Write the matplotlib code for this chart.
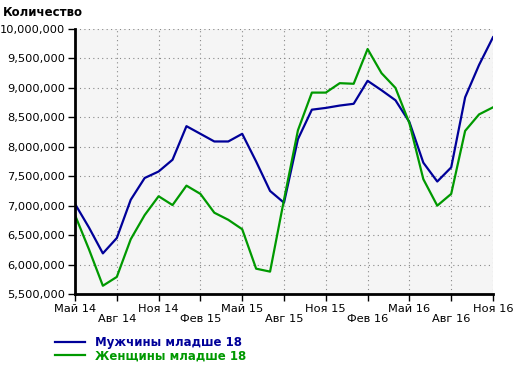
import matplotlib
matplotlib.use("Agg")
import matplotlib.pyplot as plt
from matplotlib.ticker import FuncFormatter

# months May 14 .. Nov 16
months = ["Май 14", "Июн 14", "Июл 14", "Авг 14", "Сен 14", "Окт 14", "Ноя 14", "Дек 14",
          "Янв 15", "Фев 15", "Мар 15", "Апр 15", "Май 15", "Июн 15", "Июл 15", "Авг 15",
          "Сен 15", "Окт 15", "Ноя 15", "Дек 15", "Янв 16", "Фев 16", "Мар 16", "Апр 16",
          "Май 16", "Июн 16", "Июл 16", "Авг 16", "Сен 16", "Окт 16", "Ноя 16"]

men = [7.03, 6.63, 6.19, 6.45, 7.10, 7.47, 7.58, 7.78, 8.35, 8.22, 8.09, 8.09, 8.22,
       7.75, 7.25, 7.05, 8.13, 8.63, 8.66, 8.70, 8.73, 9.12, 8.96, 8.79, 8.42,
       7.73, 7.41, 7.65, 8.84, 9.39, 9.86]
women = [6.84, 6.26, 5.64, 5.79, 6.43, 6.84, 7.16, 7.01, 7.34, 7.20, 6.88, 6.76, 6.60,
         5.93, 5.88, 7.10, 8.28, 8.92, 8.92, 9.08, 9.07, 9.66, 9.25, 9.00, 8.40,
         7.45, 7.00, 7.20, 8.27, 8.55, 8.67]

series_names = ["Мужчины младше 18", "Женщины младше 18"]
colors = ["#000099", "#009900"]

plt.rcParams['font.family'] = ['DejaVu Sans']
fig = plt.figure(figsize=(5.2, 3.66), dpi=100)
ax = fig.add_axes([75 / 520, 1 - 294 / 366, 418 / 520, 265 / 366])
ax.set_facecolor("#f5f5f5")

x = list(range(len(months)))
for vals, name, c in zip([men, women], series_names, colors):
    ax.plot(x, [v * 1e6 for v in vals], color=c, lw=1.6, label=name)

ax.set_xlim(0, len(months) - 1)
ax.set_ylim(5.5e6, 10e6)
ax.set_yticks([5.5e6 + i * 5e5 for i in range(10)])
ax.yaxis.set_major_formatter(FuncFormatter(lambda v, p: f"{int(round(v)):,}"))

xt = x[::3]
ax.set_xticks(xt)
ax.set_xticklabels([months[i] if k % 2 == 0 else "\n" + months[i] for k, i in enumerate(xt)],
                   linespacing=1.05)

ax.grid(True, color="#888888", linestyle=(0, (1, 3)), linewidth=0.8)
for s in ["top", "right"]:
    ax.spines[s].set_visible(False)
for s in ["left", "bottom"]:
    ax.spines[s].set_linewidth(2)
ax.tick_params(axis="both", labelsize=8.2, length=5, width=1, pad=2, colors="black")

fig.text(3 / 520, 1 - 12 / 366, "Количество", fontsize=8.5, fontweight="bold", va="center", ha="left")

leg = fig.legend(loc="upper left", bbox_to_anchor=(55 / 520, 1 - 336 / 366), frameon=False,
                 fontsize=8.5, handlelength=2.55, handletextpad=0.85, labelspacing=0.05,
                 borderaxespad=0, borderpad=0)
for t, c in zip(leg.get_texts(), colors):
    t.set_color(c)
    t.set_fontweight("bold")

fig.savefig("out.png", dpi=100)
